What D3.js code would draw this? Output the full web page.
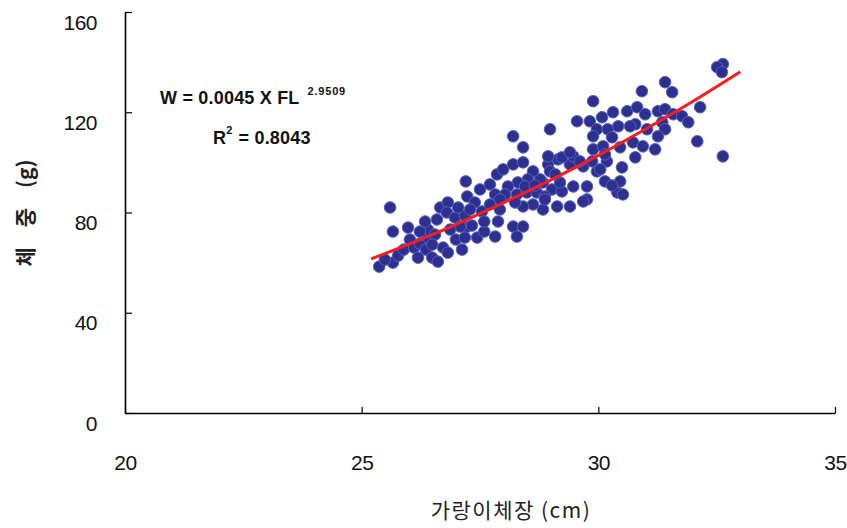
<!DOCTYPE html>
<html><head><meta charset="utf-8">
<script src="https://cdn.jsdelivr.net/npm/d3@7"></script>
<style>
html,body{margin:0;padding:0;background:#fff;}
svg{display:block;}
</style>
</head><body>
<svg id="chart" width="847" height="528"></svg>
<script>
// ---- data ----
const xTicks = [20, 25, 30, 35];
const yTicks = [0, 40, 80, 120, 160];
const xTitle = "가랑이체장 (cm)";
const yTitleParts = ["체", "중", "(g)"];
const eqText = "W = 0.0045 X FL";
const eqExp = "2.9509";
const r2Text = "= 0.8043";

// fork length (cm)
const forkLength = [
  25.37,25.66,25.77,25.60,25.66,25.98,25.89,26.02,26.11,26.23,26.19,26.36,26.49,26.61,26.72,26.40,26.40,26.34,26.59,26.66,
  26.82,26.80,26.97,27.18,27.20,27.33,26.99,27.12,27.18,27.44,27.59,27.23,27.20,27.50,27.39,27.54,27.04,26.82,
  27.29,27.08,26.87,26.55,26.49,26.23,25.49,27.59,
  27.71,27.86,27.99,28.20,28.41,28.62,28.51,28.30,28.09,27.82,28.03,28.28,28.49,28.70,28.83,29.02,29.23,29.47,29.76,29.76,
  29.40,29.13,28.83,28.62,28.41,28.24,27.92,27.88,27.82,28.20,28.41,28.28,28.94,29.15,29.40,29.68,29.97,30.14,30.40,30.18,
  28.77,28.98,28.20,28.41,28.98,28.94,29.23,29.47,28.87,29.19,29.61,29.87,29.89,29.40,29.68,30.04,30.46,30.29,30.52,30.50,
  28.45,28.87,29.09,28.66,27.92,27.71,
  29.89,29.55,29.82,30.08,30.31,29.97,30.20,29.89,30.10,30.14,32.63,32.51,32.61,31.41,31.56,30.92,32.15,30.61,30.82,30.99,
  30.42,30.78,31.03,31.26,31.41,31.58,31.77,31.90,31.35,31.41,31.26,30.46,30.73,30.94,31.20,30.78,32.09,32.63,30.29,30.67
];
// body weight (g)
const bodyWeight = [
  58.4,60.0,62.8,82.0,72.4,74.0,65.2,69.2,66.0,67.6,62.0,65.2,62.0,60.4,66.0,70.0,73.2,76.4,77.2,82.0,
  84.0,80.0,78.0,78.8,74.0,74.8,69.2,65.2,70.0,70.0,72.4,86.4,92.4,89.2,84.0,80.4,82.0,64.0,
  81.2,74.4,73.2,71.2,67.2,72.4,61.2,76.4,
  91.2,95.2,97.2,99.2,100.0,96.4,93.2,92.0,90.4,87.2,87.2,87.2,88.0,88.0,92.0,89.2,88.4,90.4,90.4,85.2,
  82.4,82.4,81.2,83.2,82.4,84.0,81.2,76.4,70.4,74.4,74.4,70.4,99.2,101.2,99.2,98.4,96.4,92.4,88.0,100.4,
  93.2,96.4,110.4,106.0,113.2,102.4,102.0,102.4,86.4,92.0,100.4,100.4,105.2,104.0,84.4,97.2,92.4,90.8,87.2,98.0,
  90.4,85.2,95.2,90.8,85.2,83.2,
  124.4,116.4,116.4,118.0,120.0,113.2,113.2,110.4,106.4,103.2,139.2,138.0,136.0,132.0,128.0,128.4,122.0,120.4,122.0,119.2,
  114.4,115.2,113.2,120.4,121.2,119.2,118.4,116.0,116.0,113.2,110.4,106.0,108.0,106.4,105.2,102.0,108.4,102.4,110.0,114.4
];
// fitted curve W = 0.0045 FL^2.9509
const curveFL = [25.2, 26, 27, 28, 29, 30, 31, 32, 33];
const curveW  = [61.5, 67.4, 75.3, 83.9, 93.0, 102.8, 113.3, 124.4, 136.2];

// ---- drawing ----
const svg = d3.select("#chart");
const x = d3.scaleLinear().domain([20, 35]).range([125, 835]);
const y = d3.scaleLinear().domain([0, 160]).range([413, 12]);

const font = "'Liberation Sans', Arial, sans-serif";

// y axis
const gy = svg.append("g").attr("transform", `translate(${x(20)},0)`)
  .call(d3.axisLeft(y).tickValues(yTicks).tickSizeInner(-7).tickSizeOuter(0).tickPadding(28));
gy.select(".domain").attr("stroke", "#000").attr("stroke-width", 1.6);
gy.selectAll(".tick line").attr("stroke", "#000").attr("stroke-width", 1.2);
gy.selectAll(".tick text").attr("font-family", font).attr("font-size", 21)
  .attr("fill", "#111").attr("dy", "0.82em").attr("x", -28).attr("letter-spacing", "-0.5");

// x axis
const gx = svg.append("g").attr("transform", `translate(0,${y(0)})`)
  .call(d3.axisBottom(x).tickValues(xTicks).tickSizeInner(-6).tickSizeOuter(0).tickPadding(42));
gx.select(".domain").attr("stroke", "#000").attr("stroke-width", 1.6);
gx.selectAll(".tick line").attr("stroke", "#000").attr("stroke-width", 1.2);
gx.selectAll(".tick text").attr("font-family", font).attr("font-size", 21).attr("fill", "#111")
  .attr("letter-spacing", "-0.5");

// axis titles
svg.append("text").attr("x", 511).attr("y", 518).attr("text-anchor", "middle")
  .attr("font-family", "'Noto Sans CJK KR', sans-serif").attr("font-size", 21).attr("fill", "#222")
  .attr("letter-spacing", "1.5")
  .text(xTitle);
const yt = svg.append("text").attr("transform", "translate(33,213) rotate(-90)").attr("text-anchor", "middle")
  .attr("font-family", "'Noto Sans CJK KR', sans-serif").attr("font-size", 21).attr("font-weight", "bold").attr("fill", "#222");
yTitleParts.forEach((p, i) => yt.append("tspan").attr("dx", i ? 20 : 0).text(p));

// points
svg.append("g").selectAll("circle").data(forkLength.map((v, i) => [v, bodyWeight[i]]))
  .join("circle")
  .attr("cx", d => x(d[0])).attr("cy", d => y(d[1])).attr("r", 5.8)
  .attr("fill", "#2c3190").attr("stroke", "#5a60c0").attr("stroke-width", 1);

// fitted curve
const line = d3.line().x(d => x(d[0])).y(d => y(d[1])).curve(d3.curveMonotoneX);
svg.append("path").datum(curveFL.map((v, i) => [v, curveW[i]]))
  .attr("d", line).attr("fill", "none").attr("stroke", "#ff1a1a").attr("stroke-width", 3);

// equation
const eq = svg.append("text").attr("x", 160).attr("y", 104)
  .attr("font-family", font).attr("font-size", 18).attr("font-weight", "bold").attr("fill", "#111")
  .attr("letter-spacing", "0.2");
eq.append("tspan").text(eqText);
eq.append("tspan").attr("dx", 8).attr("dy", -9).attr("font-size", 11).attr("letter-spacing", "0.8").text(eqExp);

const r2 = svg.append("text").attr("x", 213).attr("y", 144)
  .attr("font-family", font).attr("font-size", 18).attr("font-weight", "bold").attr("fill", "#111")
  .attr("letter-spacing", "0.2");
r2.append("tspan").text("R");
r2.append("tspan").attr("dy", -10).attr("font-size", 11).text("2");
r2.append("tspan").attr("dx", 6).attr("dy", 10).text(r2Text);
</script>
</body></html>
